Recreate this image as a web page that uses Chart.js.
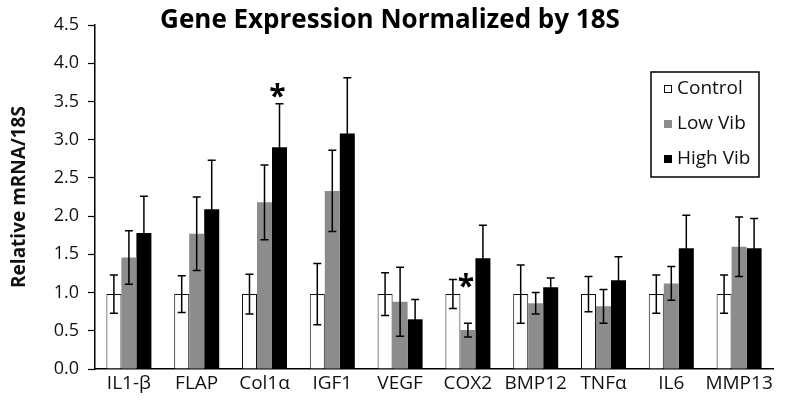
<!DOCTYPE html>
<html>
<head>
<meta charset="utf-8">
<script src="https://cdn.jsdelivr.net/npm/chart.js@4"></script>
<style>
html,body{margin:0;padding:0;background:#fff;}
#wrap{width:785px;height:405px;position:relative;}
</style>
</head>
<body>
<div id="wrap"><canvas id="c" width="785" height="405"></canvas></div>
<script>
const categories = ['IL1-β','FLAP','Col1α','IGF1','VEGF','COX2','BMP12','TNFα','IL6','MMP13'];
const seriesNames = ['Control','Low Vib','High Vib'];
const control  = [0.98,0.98,0.98,0.98,0.98,0.98,0.98,0.98,0.98,0.98];
const lowVib   = [1.46,1.77,2.18,2.33,0.88,0.51,0.86,0.82,1.12,1.60];
const highVib  = [1.78,2.09,2.90,3.08,0.65,1.45,1.07,1.16,1.58,1.58];
const controlErr = [0.25,0.24,0.26,0.40,0.28,0.19,0.38,0.23,0.25,0.25];
const lowVibErr  = [0.35,0.48,0.49,0.53,0.45,0.09,0.14,0.22,0.22,0.39];
const highVibErr = [0.48,0.64,0.57,0.73,0.26,0.43,0.12,0.31,0.43,0.39];
const yTicks = [0,0.5,1.0,1.5,2.0,2.5,3.0,3.5,4.0,4.5];
// significance markers: category, series index, y value
const starCategories = ['Col1α','COX2'];
const starSeries = [2,1];
const starValues = [3.65,1.16];

const FONT = "'Open Sans','DejaVu Sans',sans-serif";
const errs = [controlErr, lowVibErr, highVibErr];
const fills = ['#fdfdfd','#8c8c8c','#000000'];
const borders = ['#111111','#8c8c8c','#000000'];

const overlay = {
  id:'overlay',
  afterDatasetsDraw(chart){
    const ctx = chart.ctx;
    const y = chart.scales.y;
    ctx.save();
    // error bars
    ctx.strokeStyle = '#000';
    ctx.lineWidth = 1.5;
    chart.data.datasets.forEach((ds,di)=>{
      const meta = chart.getDatasetMeta(di);
      meta.data.forEach((bar,i)=>{
        const v = ds.data[i], e = errs[di][i];
        const x = bar.x;
        const yt = y.getPixelForValue(v+e), yb = y.getPixelForValue(v-e);
        ctx.beginPath();
        ctx.moveTo(x,yt); ctx.lineTo(x,yb);
        ctx.moveTo(x-4,yt); ctx.lineTo(x+4,yt);
        ctx.moveTo(x-4,yb); ctx.lineTo(x+4,yb);
        ctx.stroke();
      });
    });
    // stars
    ctx.fillStyle = '#000';
    ctx.font = "bold 30px " + FONT;
    ctx.textAlign = 'center';
    ctx.textBaseline = 'middle';
    starCategories.forEach((c,k)=>{
      const i = categories.indexOf(c);
      const bar = chart.getDatasetMeta(starSeries[k]).data[i];
      ctx.fillText('*', bar.x - 2, y.getPixelForValue(starValues[k]) + 7);
    });
    // title
    ctx.font = "bold 26px " + FONT;
    ctx.textBaseline = 'middle';
    ctx.fillText('Gene Expression Normalized by 18S', 390, 21);
    // legend
    const lx = 651, ly = 72, lw = 108, lh = 105;
    ctx.fillStyle = '#fff';
    ctx.fillRect(lx,ly,lw,lh);
    ctx.strokeStyle = '#000';
    ctx.lineWidth = 1.5;
    ctx.strokeRect(lx,ly,lw,lh);
    ctx.font = "19px " + FONT;
    ctx.textAlign = 'left';
    seriesNames.forEach((n,k)=>{
      const cy = 89 + k*35;
      ctx.fillStyle = fills[k];
      ctx.fillRect(664, cy-4, 8, 8);
      ctx.strokeStyle = borders[k];
      ctx.lineWidth = 1;
      ctx.strokeRect(664.5, cy-3.5, 7, 7);
      ctx.fillStyle = '#111';
      ctx.fillText(n, 677, cy);
    });
    ctx.restore();
  }
};

new Chart(document.getElementById('c'), {
  type:'bar',
  data:{
    labels: categories,
    datasets:[
      {label:seriesNames[0], data:control, backgroundColor:fills[0], borderColor:borders[0], borderWidth:1},
      {label:seriesNames[1], data:lowVib, backgroundColor:fills[1], borderColor:borders[1], borderWidth:0},
      {label:seriesNames[2], data:highVib, backgroundColor:fills[2], borderColor:borders[2], borderWidth:0}
    ]
  },
  options:{
    responsive:false,
    animation:false,
    devicePixelRatio:1,
    layout:{padding:{top:25,right:12,left:0,bottom:0}},
    datasets:{bar:{categoryPercentage:0.664, barPercentage:1.0}},
    plugins:{legend:{display:false}, title:{display:false}, tooltip:{enabled:false}},
    scales:{
      x:{
        grid:{display:false, drawTicks:false},
        border:{color:'#000', width:1.5},
        ticks:{color:'#111', font:{family:FONT, size:19}, padding:3, maxRotation:0, autoSkip:false},
        afterFit(s){ s.height = 36; }
      },
      y:{
        min:0, max:4.5,
        afterBuildTicks(s){ s.ticks = yTicks.map(v=>({value:v})); },
        grid:{drawOnChartArea:false, tickLength:7, color:'#000', tickWidth:1.2},
        border:{color:'#000', width:1.5},
        ticks:{color:'#111', font:{family:FONT, size:18}, padding:9, callback:v=>v.toFixed(1)},
        title:{display:true, text:'Relative mRNA/18S', color:'#111', font:{family:FONT, size:19, weight:'bold'}, padding:{top:8,bottom:0}},
        afterFit(s){ s.width = 95; }
      }
    }
  },
  plugins:[overlay]
});
</script>
</body>
</html>
